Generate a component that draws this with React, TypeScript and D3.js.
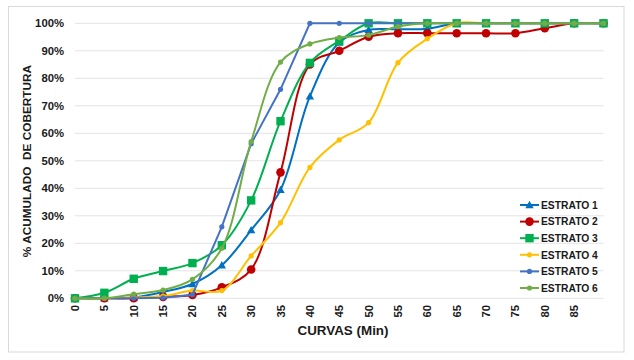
import React from "react";
import * as d3 from "d3";

const minutes = [0, 5, 10, 15, 20, 25, 30, 35, 40, 45, 50, 55, 60, 65, 70, 75, 80, 85, 90];
const xTickLabels = [0, 5, 10, 15, 20, 25, 30, 35, 40, 45, 50, 55, 60, 65, 70, 75, 80, 85];
const yTicks = [0, 10, 20, 30, 40, 50, 60, 70, 80, 90, 100];

const estrato1 = [0, 0, 0.3, 2.3, 5.2, 12, 24.8, 39.4, 73.4, 93, 97.6, 97.8, 98, 100, 100, 100, 100, 100, 100];
const estrato2 = [0, 0, 0, 0.5, 1.2, 4, 10.5, 45.8, 85, 90, 95.1, 96.4, 96.4, 96.4, 96.4, 96.4, 98.2, 100, 100];
const estrato3 = [0, 2, 7.1, 9.9, 12.8, 19.3, 35.6, 64.4, 85.6, 93.6, 100, 100, 100, 100, 100, 100, 100, 100, 100];
const estrato4 = [0, 0, 0.3, 0.8, 2.8, 2.8, 15.4, 27.5, 47.6, 57.6, 63.9, 85.7, 94.4, 100, 100, 100, 100, 100, 100];
const estrato5 = [0, 0, 0, 0.2, 1.3, 26, 56.2, 76, 100, 100, 100, 100, 100, 100, 100, 100, 100, 100, 100];
const estrato6 = [0, 0, 1.5, 3, 6.9, 18.2, 57, 85.9, 92.5, 94.8, 95.7, 98.8, 100, 100, 100, 100, 100, 100, 100];

const seriesNames = ["ESTRATO 1", "ESTRATO 2", "ESTRATO 3", "ESTRATO 4", "ESTRATO 5", "ESTRATO 6"];
const seriesValues = [estrato1, estrato2, estrato3, estrato4, estrato5, estrato6];
const seriesColors = ["#0070C0", "#C00000", "#00B050", "#FFC000", "#4472C4", "#70AD47"];
const seriesMarkers = ["triangle", "bigcircle", "square", "dot", "dot", "dot"];
const seriesSmooth = [true, true, true, true, false, true];

const FONT = "'Liberation Sans', Arial, sans-serif";

function Marker({ type, x, y, color }: { type: string; x: number; y: number; color: string }) {
  if (type === "triangle") {
    const s = 4.2;
    return <path d={`M${x},${y - s}L${x + s},${y + s * 0.75}L${x - s},${y + s * 0.75}Z`} fill={color} />;
  }
  if (type === "bigcircle") return <circle cx={x} cy={y} r={4.3} fill={color} />;
  if (type === "square") return <rect x={x - 4.2} y={y - 4.2} width={8.4} height={8.4} fill={color} />;
  return <circle cx={x} cy={y} r={2.6} fill={color} />;
}

export default function App() {
  const x = d3.scaleLinear().domain([0, 90]).range([75, 603.5]);
  const y = d3.scaleLinear().domain([0, 100]).range([298.3, 23.3]);

  const lines = seriesValues.map((vals, i) => {
    const gen = d3
      .line<number>()
      .x((_, j) => x(minutes[j]))
      .y((v) => y(v))
      .curve(seriesSmooth[i] ? d3.curveCatmullRom.alpha(0.5) : d3.curveLinear);
    return gen(vals) || "";
  });

  const legendY0 = 205;
  const legendStep = 16.6;

  return (
    <svg
      width={634}
      height={360}
      style={{ position: "absolute", left: 0, top: 0, background: "#fff" }}
      fontFamily={FONT}
    >
      <rect x={8.5} y={6.5} width={615.5} height={345.5} fill="#fff" stroke="#d9d9d9" strokeWidth={1} />
      {yTicks.map((t) => (
        <g key={t}>
          <line x1={75} x2={603.5} y1={y(t)} y2={y(t)} stroke="#e3e3e3" strokeWidth={1} />
          <text x={64} y={y(t) + 4} textAnchor="end" fontSize={11.3} fontWeight="bold" fill="#1a1a1a">
            {t}%
          </text>
        </g>
      ))}
      {xTickLabels.map((t) => (
        <text
          key={t}
          transform={`translate(${x(t) + 4},305) rotate(-90)`}
          textAnchor="end"
          fontSize={11.3}
          fontWeight="bold"
          fill="#1a1a1a"
        >
          {t}
        </text>
      ))}
      <text
        transform="translate(31,161) rotate(-90)"
        textAnchor="middle"
        fontSize={11.8}
        fontWeight="bold"
        fill="#1a1a1a"
        style={{ whiteSpace: "pre" }}
      >
        {"% ACUMULADO  DE COBERTURA"}
      </text>
      <text x={343} y={335} textAnchor="middle" fontSize={13.4} fontWeight="bold" fill="#1a1a1a">
        CURVAS (Min)
      </text>
      {seriesValues.map((vals, i) => (
        <g key={i}>
          <path d={lines[i]} fill="none" stroke={seriesColors[i]} strokeWidth={2} />
          {vals.map((v, j) => (
            <Marker key={j} type={seriesMarkers[i]} x={x(minutes[j])} y={y(v)} color={seriesColors[i]} />
          ))}
        </g>
      ))}
      {seriesNames.map((name, i) => {
        const ly = legendY0 + i * legendStep;
        return (
          <g key={name}>
            <line x1={520} x2={539} y1={ly} y2={ly} stroke={seriesColors[i]} strokeWidth={2} />
            <Marker type={seriesMarkers[i]} x={529.5} y={ly} color={seriesColors[i]} />
            <text x={541} y={ly + 3.8} fontSize={10.3} fontWeight="bold" fill="#1a1a1a">
              {name}
            </text>
          </g>
        );
      })}
    </svg>
  );
}
